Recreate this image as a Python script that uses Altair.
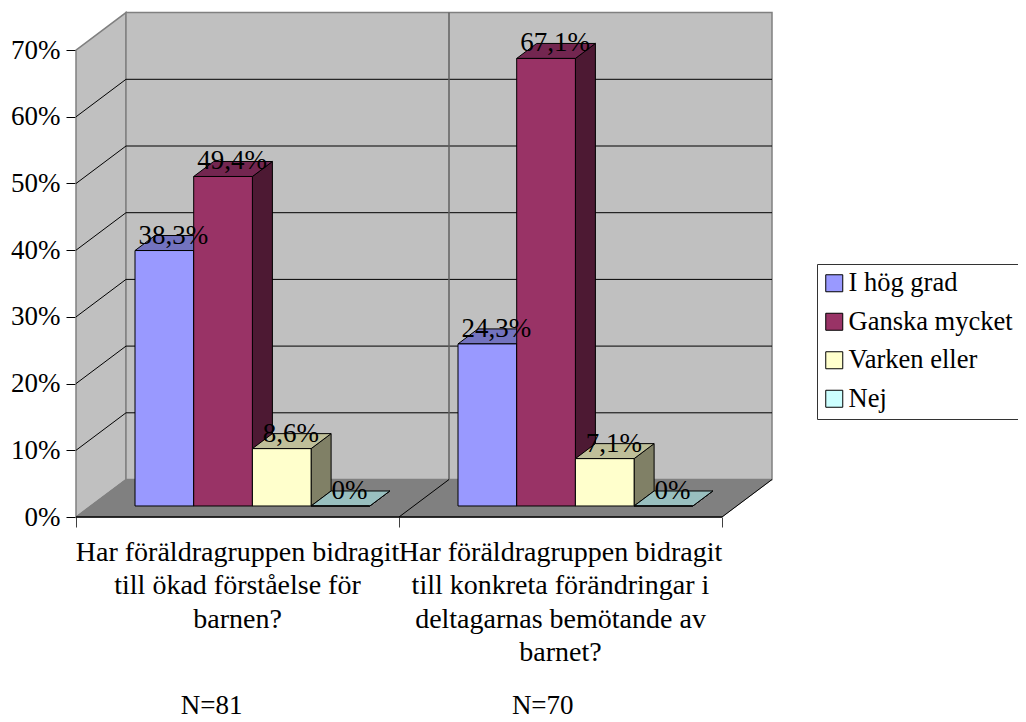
import altair as alt
import pandas as pd

series = ["I hög grad", "Ganska mycket", "Varken eller", "Nej"]
front_colors = ["#9999FF", "#993366", "#FFFFCC", "#CCFFFF"]
top_colors = ["#7373BF", "#732650", "#BFBF99", "#99BFBF"]
side_colors = ["#4D4D80", "#4D1933", "#808066", "#668080"]
questions = [
    "Har föräldragruppen bidragit\ntill ökad förståelse för\nbarnen?",
    "Har föräldragruppen bidragit\ntill konkreta förändringar i\ndeltagarnas bemötande av\nbarnet?",
]
counts = ["N=81", "N=70"]
values = [[38.3, 49.4, 8.6, 0], [24.3, 67.1, 7.1, 0]]
value_labels = [["38,3%", "49,4%", "8,6%", "0%"], ["24,3%", "67,1%", "7,1%", "0%"]]
y_ticks = [0, 10, 20, 30, 40, 50, 60, 70]
x_ticks = [0, 1, 2]

FONT = "Liberation Serif"
FS = 27
FS_CAT = 28
FS_LEG = 26.5
W, H = 696, 504
XMAX = W / 323
YMAX = H / 6.67
WDX, WDY = 50 / 323, 37.5 / 6.67      # depth of walls
BDX, BDY = 20 / 323, 15 / 6.67        # depth of bars
BAR0, BARW, BARY = 59 / 323, 58.7 / 323, 1.65

XS = alt.Scale(domain=[0, XMAX], nice=False, zero=False)
YS = alt.Scale(domain=[0, YMAX], nice=False, zero=False)
XAXIS = alt.Axis(values=x_ticks, labels=False, title=None, domain=False, grid=False,
                 tickSize=10, tickColor="#404040", tickWidth=1)
YAXIS = alt.Axis(values=y_ticks, labelExpr="datum.value + '%'", title=None, domain=False, grid=False,
                 tickSize=10, tickColor="black", tickWidth=1, labelPadding=6, labelFont=FONT,
                 labelFontSize=FS, labelColor="black")


def X(f="x"):
    return alt.X(f"{f}:Q", scale=XS, axis=XAXIS, stack=None)


def Y(f="y"):
    return alt.Y(f"{f}:Q", scale=YS, axis=YAXIS, stack=None)


def vert(rows, fill, stroke, sw=1):
    """parallelogram with vertical edges: rows of (x, y, y2)"""
    d = pd.DataFrame(rows, columns=["x", "y", "y2"])
    return alt.Chart(d).mark_area(fill=fill, stroke=stroke, strokeWidth=sw, opacity=1).encode(
        x=X(), y=Y(), y2="y2:Q")


def horiz(rows, fill, stroke, sw=1):
    """parallelogram with horizontal edges: rows of (y, x, x2)"""
    d = pd.DataFrame(rows, columns=["y", "x", "x2"])
    return alt.Chart(d).mark_area(orient="horizontal", fill=fill, stroke=stroke, strokeWidth=sw, opacity=1).encode(
        y=Y(), x=X(), x2="x2:Q")


def seg(x0, y0, x1, y1, color="black", sw=1):
    d = pd.DataFrame({"x": [x0, x1], "y": [y0, y1]})
    return alt.Chart(d).mark_line(color=color, strokeWidth=sw).encode(x=X(), y=Y())


layers = []

# walls and floor
layers.append(vert([(0, 0, 70), (WDX, WDY, 70 + WDY)], "#C0C0C0", "#808080", 1.5))
layers.append(vert([(WDX, WDY, 70 + WDY), (2 + WDX, WDY, 70 + WDY)], "#C0C0C0", "#808080", 1.5))
layers.append(horiz([(0, 0, 2), (WDY, WDX, 2 + WDX)], "#808080", "#808080", 1))

# grid lines
grid_rows = []
for v in y_ticks[1:-1]:
    grid_rows.append({"g": f"l{v}", "x": 0, "y": v})
    grid_rows.append({"g": f"l{v}", "x": WDX, "y": v + WDY})
    grid_rows.append({"g": f"l{v}", "x": 2 + WDX, "y": v + WDY})
layers.append(
    alt.Chart(pd.DataFrame(grid_rows)).mark_line(color="black", strokeWidth=1).encode(x=X(), y=Y(), detail="g:N")
)
layers.append(seg(1 + WDX, WDY, 1 + WDX, 70 + WDY, "#606060", 1.5))
layers.append(seg(1, 0, 1 + WDX, WDY))
layers.append(seg(2, 0, 2 + WDX, WDY))
layers.append(seg(0, 0, 2, 0, "black", 1.5))

# bars, painted left to right
label_rows = []
for c, row in enumerate(values):
    for s, v in enumerate(row):
        x0 = c + BAR0 + s * BARW
        x1 = x0 + BARW
        layers.append(vert([(x1, BARY, BARY + v), (x1 + BDX, BARY + BDY, BARY + BDY + v)], side_colors[s], "black"))
        layers.append(horiz([(BARY + v, x0, x1), (BARY + v + BDY, x0 + BDX, x1 + BDX)], top_colors[s], "black"))
        front = pd.DataFrame({"x": [x0], "x2": [x1], "y": [BARY], "y2": [BARY + v], "s": [series[s]]})
        layers.append(
            alt.Chart(front).mark_rect(stroke="black", strokeWidth=1).encode(
                x=X(), x2="x2:Q", y=Y(), y2="y2:Q",
                color=alt.Color("s:N", scale=alt.Scale(domain=series, range=front_colors), title=None,
                                legend=alt.Legend(
                                    orient="none", legendX=741, legendY=251, symbolType="square",
                                    symbolSize=289, symbolStrokeColor="black", symbolStrokeWidth=1,
                                    symbolOpacity=1, symbolOffset=-2, labelFont=FONT, labelFontSize=FS_LEG,
                                    labelColor="black", labelLimit=300, rowPadding=11.5, labelOffset=1,
                                    strokeColor="#333333", padding=6, cornerRadius=0, fillColor="white",
                                )),
            )
        )
        label_rows.append({"x": (x0 + x1) / 2 + BDX * 0.45, "y": BARY + v + BDY, "t": value_labels[c][s]})

layers.append(
    alt.Chart(pd.DataFrame(label_rows)).mark_text(font=FONT, fontSize=FS, color="black", baseline="middle", align="center")
    .encode(x=X(), y=Y(), text="t:N")
)

# category labels
q_df = pd.DataFrame({"x": [0.5, 1.5], "y": [-3.3, -3.3], "t": questions})
layers.append(
    alt.Chart(q_df).mark_text(font=FONT, fontSize=FS_CAT, color="black", baseline="top", align="center",
                              lineBreak="\n", lineHeight=33.3)
    .encode(x=X(), y=Y(), text="t:N")
)
n_df = pd.DataFrame({"x": [0.42, 1.445], "y": [-29.5, -29.5], "t": counts})
layers.append(
    alt.Chart(n_df).mark_text(font=FONT, fontSize=FS, color="black", baseline="alphabetic", align="center")
    .encode(x=X(), y=Y(), text="t:N")
)

chart = (
    alt.layer(*layers)
    .properties(width=W, height=H, autosize=alt.AutoSizeParams(type="none"), background="white",
                padding={"left": 68, "top": 5, "right": 246, "bottom": 205})
    .configure_view(stroke=None)
)

chart.save("out.html", embed_options={"renderer": "svg", "actions": False})
